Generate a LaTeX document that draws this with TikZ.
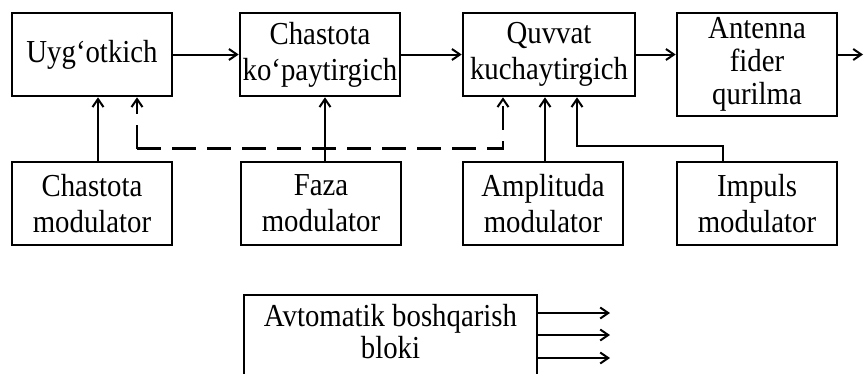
\documentclass[tikz,border=0pt]{standalone}
\usepackage{fontspec}
\setmainfont{Liberation Serif}[FakeStretch=0.9]
\usetikzlibrary{arrows.meta}
\begin{document}
\begin{tikzpicture}[x=1pt,y=-1pt,
  blk/.style={draw,line width=2.6pt,inner sep=0pt,align=center,
    minimum width=160pt,minimum height=83pt,
    font=\fontsize{32}{36}\selectfont},
  conn/.style={line width=2pt,-{Straight Barb[length=8pt,width=11pt,line width=2pt]}},
  ctl/.style={conn,line width=2.6pt,dash pattern=on 24pt off 11pt}]
\useasboundingbox (0,0) rectangle (865,373);
\clip (0,0) rectangle (865,373);

% transmitter chain
\node[blk] (gen) at (92,54.5) {Uyg‘otkich};
\node[blk] (mul) at (320,54.5) {Chastota\\ko‘paytirgich};
\node[blk,minimum width=172pt] (amp) at (549,54.5) {Quvvat\\kuchaytirgich};
\node[blk,minimum height=103pt,font=\fontsize{32}{33}\selectfont] (ant) at (757,64.5) {Antenna\\fider\\qurilma};

% modulators
\node[blk] (fm) at (92,203.5) {Chastota\\modulator};
\node[blk] (pm) at (321,203.5) {Faza\\modulator};
\node[blk] (am) at (543,203.5) {Amplituda\\modulator};
\node[blk] (im) at (757,203.5) {Impuls\\modulator};

% automatic control unit
\node[blk,minimum width=293pt,minimum height=105pt,font=\fontsize{32}{32}\selectfont,
  text depth=33pt] (acu) at (390.5,347.5) {Avtomatik boshqarish\\bloki};

% signal path
\draw[conn] (gen.east) -- (mul.west);
\draw[conn] (mul.east) -- (amp.west);
\draw[conn] (amp.east) -- (amp.east -| ant.west);
\coordinate (out) at (863,54.5);
\draw[conn] (ant.east |- amp.east) -- (out);

% modulation inputs
\draw[conn] ([xshift=6pt]fm.north) -- ([xshift=6pt]gen.south);
\draw[conn] ([xshift=4pt]pm.north) -- ([xshift=5pt]mul.south);
\draw[conn] ([xshift=2pt]am.north) -- ([xshift=-4pt]amp.south);
\draw[conn] ([xshift=-34pt]im.north) -- ++(0,-15) -| ([xshift=28pt]amp.south);

% phase control (dashed)
\coordinate (ph) at ([xshift=4pt,yshift=12pt]pm.north);
\coordinate (c1) at ([xshift=45pt]gen.south |- ph);
\draw[ctl] (c1) -- ([xshift=45pt]gen.south);
\draw[ctl] (c1) -| ([xshift=-46pt]amp.south);

% control outputs
\coordinate (o1) at (610,313);
\coordinate (o2) at (610,335);
\coordinate (o3) at (610,358);
\draw[conn] (acu.east |- o1) -- (o1);
\draw[conn] (acu.east |- o2) -- (o2);
\draw[conn] (acu.east |- o3) -- (o3);
\end{tikzpicture}
\end{document}
